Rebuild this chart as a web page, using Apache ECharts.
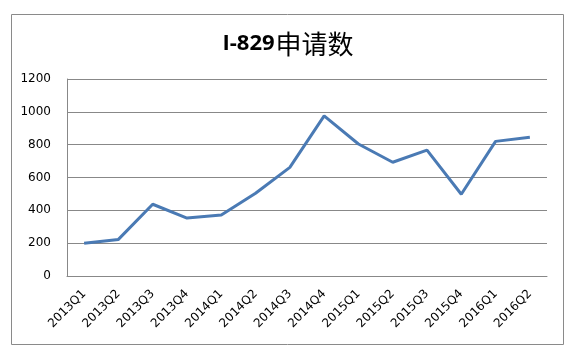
<!DOCTYPE html>
<html>
<head>
<meta charset="utf-8">
<script src="https://cdn.jsdelivr.net/npm/echarts@6/dist/echarts.min.js"></script>
<style>html,body{margin:0;padding:0;background:#fff;}#c{width:576px;height:356px;}</style>
</head>
<body>
<div id="c"></div>
<script>
const categories = ['2013Q1','2013Q2','2013Q3','2013Q4','2014Q1','2014Q2','2014Q3','2014Q4','2015Q1','2015Q2','2015Q3','2015Q4','2016Q1','2016Q2'];
const values = [199, 223, 437, 353, 371, 504, 662, 975, 804, 693, 767, 498, 820, 845];
const yTicks = [0, 200, 400, 600, 800, 1000, 1200];

const chart = echarts.init(document.getElementById('c'), null, {renderer: 'canvas'});
chart.setOption({
  animation: false,
  backgroundColor: '#ffffff',
  graphic: [{
    type: 'rect',
    shape: {x: 11.5, y: 14.5, width: 552, height: 330},
    style: {fill: 'none', stroke: '#8a8a8a', lineWidth: 1}
  }],
  title: {
    text: '{a|I-829}{b|申请数}',
    left: 'center',
    top: 26,
    textStyle: {
      rich: {
        a: {fontFamily: 'Open Sans', fontWeight: 'bold', fontSize: 22, color: '#000', padding: [0, 1, 0, 0]},
        b: {fontFamily: 'Noto Sans CJK SC', fontWeight: 'normal', fontSize: 26, color: '#000'}
      }
    }
  },
  grid: {left: 67, right: 29, top: 79, bottom: 80, containLabel: false},
  xAxis: {
    type: 'category',
    data: categories,
    boundaryGap: true,
    axisLine: {show: true, lineStyle: {color: '#888', width: 1}},
    axisTick: {show: false},
    axisLabel: {rotate: 45, color: '#000', fontSize: 12, fontFamily: 'DejaVu Sans', margin: 16, interval: 0}
  },
  yAxis: {
    type: 'value',
    min: yTicks[0],
    max: yTicks[yTicks.length - 1],
    interval: 200,
    axisLine: {show: true, lineStyle: {color: '#888', width: 1}},
    axisTick: {show: false},
    axisLabel: {color: '#000', fontSize: 12, fontFamily: 'DejaVu Sans', margin: 16, formatter: function (v) { return String(v); }},
    splitLine: {show: true, lineStyle: {color: '#888', width: 1}}
  },
  series: [{
    type: 'line',
    data: values,
    showSymbol: false,
    symbol: 'none',
    lineStyle: {color: '#4a7ab4', width: 3},
    itemStyle: {color: '#4a7ab4'}
  }]
});
</script>
</body>
</html>
